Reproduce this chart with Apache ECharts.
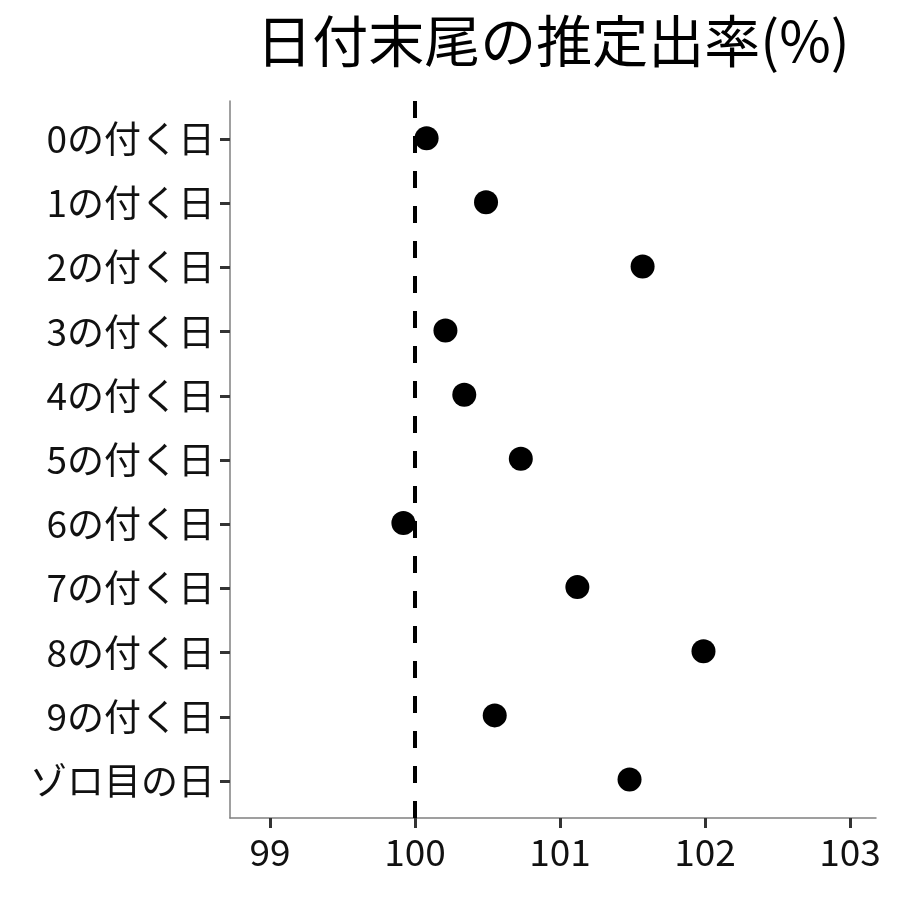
<!DOCTYPE html>
<html>
<head>
<meta charset="utf-8">
<script src="https://cdn.jsdelivr.net/npm/echarts@6/dist/echarts.min.js"></script>
<style>html,body{margin:0;padding:0;background:#fff}#c{width:900px;height:900px}</style>
</head>
<body>
<div id="c"></div>
<script>
const titleText = '日付末尾の推定出率(%)';
const categories = ['0の付く日','1の付く日','2の付く日','3の付く日','4の付く日','5の付く日','6の付く日','7の付く日','8の付く日','9の付く日','ゾロ目の日'];
const rates = [100.08, 100.49, 101.57, 100.21, 100.34, 100.73, 99.92, 101.12, 101.99, 100.55, 101.48];
const xTickMin = 99, xTickMax = 103, xTickStep = 1;
const refValue = 100;

const font = '"Noto Sans CJK JP", "Noto Sans", sans-serif';
const chart = echarts.init(document.getElementById('c'), null, {renderer: 'canvas'});
const axisColor = '#808080';
const tickStyle = {color: '#333', width: 3};
chart.setOption({
  animation: false,
  backgroundColor: '#fff',
  title: {
    text: titleText,
    left: 548, top: 8, textAlign: 'center',
    textStyle: {fontFamily: font, fontSize: 56, fontWeight: 'normal', color: '#000'}
  },
  grid: [
    {left: 230, right: 24, top: 101, bottom: 82},
    {left: 270, right: 50, top: 139, bottom: 119}
  ],
  xAxis: [
    {
      gridIndex: 0, type: 'value', min: 98.724, max: 103.18,
      splitLine: {show: false},
      axisLine: {show: true, onZero: false, lineStyle: {color: axisColor, width: 1.5}},
      axisTick: {show: false}, axisLabel: {show: false}
    },
    {
      gridIndex: 1, type: 'value', min: xTickMin, max: xTickMax, interval: xTickStep,
      position: 'bottom', offset: 37,
      splitLine: {show: false},
      axisLine: {show: false, onZero: false},
      axisTick: {show: true, inside: false, length: 10, lineStyle: tickStyle},
      axisLabel: {fontFamily: font, fontSize: 37, color: '#111', margin: 15}
    }
  ],
  yAxis: [
    {
      gridIndex: 0, type: 'value', min: -0.58, max: 10.6, inverse: true,
      splitLine: {show: false},
      axisLine: {show: true, onZero: false, lineStyle: {color: axisColor, width: 1.5}},
      axisTick: {show: false}, axisLabel: {show: false}
    },
    {
      gridIndex: 1, type: 'category', data: categories, boundaryGap: false, inverse: true,
      position: 'left', offset: 40,
      axisLine: {show: false, onZero: false},
      axisTick: {show: true, inside: false, length: 10, lineStyle: tickStyle},
      axisLabel: {fontFamily: font, fontSize: 37, color: '#111', margin: 15, interval: 0}
    }
  ],
  series: [{
    type: 'scatter',
    xAxisIndex: 0, yAxisIndex: 0,
    data: rates.map((r, i) => [r, i]),
    symbolSize: 24,
    itemStyle: {color: '#000', opacity: 1},
    z: 5,
    markLine: {
      silent: true, symbol: 'none', z: 1,
      label: {show: false},
      lineStyle: {type: [17, 18], color: '#000', width: 4},
      data: [{xAxis: refValue}]
    }
  }]
});
</script>
</body>
</html>
